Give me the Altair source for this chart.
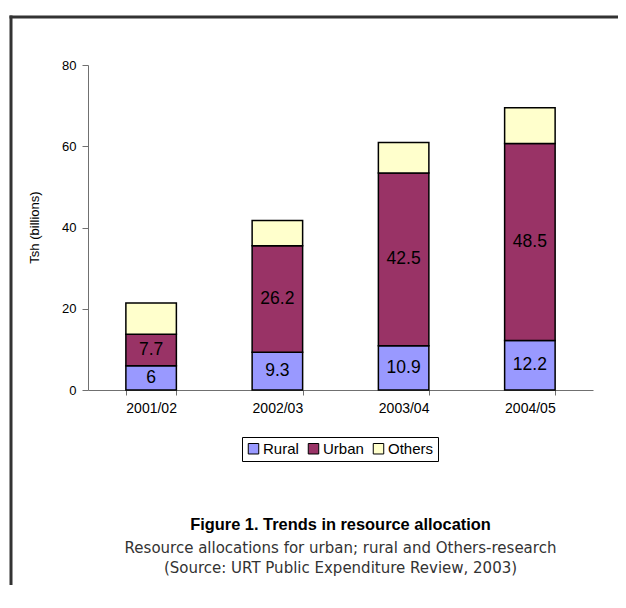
import altair as alt
import pandas as pd

years = ["2001/02", "2002/03", "2003/04", "2004/05"]
series = ["Rural", "Urban", "Others"]
rural = [6, 9.3, 10.9, 12.2]
urban = [7.7, 26.2, 42.5, 48.5]
others = [7.7, 6.2, 7.5, 8.8]
colors = ["#9999FF", "#993366", "#FFFFCC"]
show_label = [True, True, False]
y_ticks = [0, 20, 40, 60, 80]

y_title = "Tsh (billions)"
caption_title = "Figure 1. Trends in resource allocation"
caption_line1 = "Resource allocations for urban; rural and Others-research"
caption_line2 = "(Source: URT Public Expenditure Review, 2003)"

rows = []
for i, yr in enumerate(years):
    for j, (s, vals) in enumerate(zip(series, [rural, urban, others])):
        rows.append({
            "year": yr, "series": s, "value": vals[i], "order": j,
            "label": f"{vals[i]:g}" if show_label[j] else "",
        })
df = pd.DataFrame(rows)

W, H = 505, 325
PAD_R = 25
PAD_B = 195
FONT = "Liberation Sans"
CAPFONT = "DejaVu Sans"

xenc = alt.X(
    "year:N", sort=years,
    scale=alt.Scale(paddingInner=0.6, paddingOuter=0.3),
    axis=alt.Axis(title=None, tickBand="extent", labelAngle=0, labelFontSize=14,
                  labelPadding=6, tickSize=5, domainColor="#707070",
                  tickColor="#707070", labelColor="black", labelFont=FONT),
)
yscale = alt.Scale(domain=[0, 80], nice=False)

bars = alt.Chart(df).mark_bar(stroke="black", strokeWidth=1.5).encode(
    x=xenc,
    y=alt.Y("value:Q", stack="zero", scale=yscale,
            axis=alt.Axis(values=y_ticks, grid=False, title=None, labelFontSize=13,
                          labelPadding=6, tickSize=6, domainColor="#707070",
                          tickColor="#707070", labelColor="black", labelFont=FONT)),
    color=alt.Color("series:N", sort=series,
                    scale=alt.Scale(domain=series, range=colors),
                    legend=alt.Legend(title=None, orient="none", legendX=154, legendY=372,
                                      direction="horizontal", strokeColor="black",
                                      fillColor="white", padding=4,
                                      symbolType="square", symbolSize=110,
                                      symbolStrokeColor="black", symbolStrokeWidth=1,
                                      symbolOpacity=1,
                                      labelFontSize=15, labelFont=FONT, labelColor="black",
                                      columnPadding=7, labelOffset=2)),
    order=alt.Order("order:Q"),
)

labels = alt.Chart(df).transform_stack(
    stack="value", groupby=["year"], sort=[alt.SortField("order")], as_=["v0", "v1"]
).transform_calculate(
    mid="(datum.v0 + datum.v1) / 2"
).mark_text(fontSize=17.5, font=FONT, color="black").encode(
    x=alt.X("year:N", sort=years),
    y=alt.Y("mid:Q", scale=yscale),
    text="label:N",
)

one = pd.DataFrame({"a": [0]})
frame_top = alt.Chart(one).mark_rule(color="#333333", strokeWidth=3).encode(
    x=alt.value(-78.5), x2=alt.value(W + PAD_R), y=alt.value(-48))
frame_left = alt.Chart(one).mark_rule(color="#333333", strokeWidth=3).encode(
    x=alt.value(-77), y=alt.value(-49.5), y2=alt.value(H + PAD_B))

ytitle = alt.Chart(one).mark_text(angle=270, fontSize=13, font=FONT, color="black").encode(
    x=alt.value(-53), y=alt.value(H / 2), text=alt.value(y_title))

cap1 = alt.Chart(one).mark_text(fontSize=16.4, font=FONT, fontWeight="bold", color="black").encode(
    x=alt.value(W / 2), y=alt.value(460), text=alt.value(caption_title))
cap2 = alt.Chart(one).mark_text(fontSize=15, font=CAPFONT, color="#333333").encode(
    x=alt.value(W / 2), y=alt.value(483), text=alt.value(caption_line1))
cap3 = alt.Chart(one).mark_text(fontSize=15, font=CAPFONT, color="#333333").encode(
    x=alt.value(W / 2), y=alt.value(503), text=alt.value(caption_line2))

chart = alt.layer(bars, labels, frame_top, frame_left, ytitle, cap1, cap2, cap3).properties(
    width=W, height=H,
    background="white",
    autosize=alt.AutoSizeParams(type="none"),
    padding={"left": 80, "top": 57, "right": PAD_R, "bottom": PAD_B},
).configure_view(strokeWidth=0, stroke="transparent")

chart.save("out.html", embed_options={"renderer": "svg", "actions": False})
